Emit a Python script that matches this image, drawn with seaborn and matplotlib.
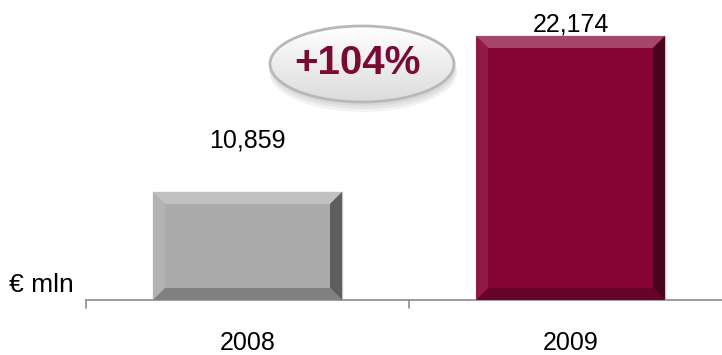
import numpy as np
import pandas as pd
import matplotlib
matplotlib.use("Agg")
import matplotlib.pyplot as plt
from matplotlib.patches import Ellipse, Polygon
import seaborn as sns

years = ["2008", "2009"]
values = [10859, 22174]
value_labels = ["10,859", "22,174"]
bar_colors = ["#ABABAB", "#870535"]
growth_label = "+104%"
unit_label = "€ mln"

sns.set_theme(style="white")
plt.rcParams["font.family"] = ["Liberation Sans", "DejaVu Sans"]

df = pd.DataFrame({"year": years, "value": values})

W, H = 722, 355
fig = plt.figure(figsize=(W / 100, H / 100), dpi=100)
ax = fig.add_axes([86 / W, 55 / H, 646 / W, 300 / H])
sns.barplot(data=df, x="year", y="value", hue="year", palette=bar_colors,
            width=0.585, legend=False, ax=ax, saturation=1)
ax.set_xlim(-0.5, 1.5)
ax.set_ylim(3025, 24782)

for s in ["top", "right", "left"]:
    ax.spines[s].set_visible(False)
ax.spines["bottom"].set_color("#8C8C8C")
ax.spines["bottom"].set_linewidth(1.2)
ax.set_yticks([])
ax.set_xlabel("")
ax.set_ylabel("")
ax.tick_params(axis="x", length=0, pad=22, labelsize=18, labelcolor="black")
# category separators below the baseline
for xb in [-0.5, 0.5]:
    ax.plot([xb, xb], [0, -0.027], transform=ax.get_xaxis_transform(), color="#8C8C8C",
            lw=1.2, clip_on=False)


def shade(c, f):
    c = np.array(matplotlib.colors.to_rgb(c))
    if f >= 0:
        return tuple(c + (1 - c) * f)
    return tuple(c * (1 + f))


# bevelled bar faces
bev = 12  # pixels
to_data = ax.transData.inverted()
label_gap_pt = [32, 3]
ybase = ax.get_ylim()[0]
for patch, col, lab, gap in zip(ax.patches, bar_colors, value_labels, label_gap_pt):
    patch.set_edgecolor("#C8C8C8")
    patch.set_linewidth(1.0)
    x0, y0 = patch.get_x(), max(patch.get_y(), ybase)
    x1, y1 = x0 + patch.get_width(), patch.get_y() + patch.get_height()
    (px0, py0) = ax.transData.transform((x0, y0))
    (px1, py1) = ax.transData.transform((x1, y1))
    ix0, iy0 = to_data.transform((px0 + bev, py0 + bev))
    ix1, iy1 = to_data.transform((px1 - bev, py1 - bev))
    faces = [
        ([(x0, y1), (x1, y1), (ix1, iy1), (ix0, iy1)], shade(col, 0.26)),
        ([(x0, y0), (x0, y1), (ix0, iy1), (ix0, iy0)], shade(col, 0.08)),
        ([(x1, y0), (x1, y1), (ix1, iy1), (ix1, iy0)], shade(col, -0.45)),
        ([(x0, y0), (x1, y0), (ix1, iy0), (ix0, iy0)], shade(col, -0.25)),
    ]
    for pts, fc in faces:
        ax.add_patch(Polygon(pts, closed=True, facecolor=fc, edgecolor="none", zorder=3))
    ax.annotate(lab, ((x0 + x1) / 2, y1), xytext=(0, gap), textcoords="offset points",
                ha="center", va="baseline", fontsize=18, color="black")

fig.text(9 / W, 1 - 285 / H, unit_label, ha="left", va="center", fontsize=19,
         color="black")

# growth bubble on a pixel-space overlay
ov = fig.add_axes([0, 0, 1, 1], zorder=5)
ov.set_xlim(0, W)
ov.set_ylim(0, H)
ov.axis("off")
ov.patch.set_alpha(0)
cx, cy, ew, eh = 362, H - 64, 184, 76
for k, a in enumerate([0.05, 0.05, 0.05]):
    ov.add_patch(Ellipse((cx + 1, cy - 4 - 2 * k), ew + 2 * k, eh + 2 * k,
                         facecolor="#000000", alpha=a, edgecolor="none", zorder=1))
grad = np.linspace(1.0, 0.86, 256).reshape(-1, 1)
im = ov.imshow(np.dstack([grad, grad, grad]), extent=(cx - ew / 2, cx + ew / 2,
               cy - eh / 2, cy + eh / 2), origin="upper", aspect="auto", zorder=2)
clip = Ellipse((cx, cy), ew, eh, transform=ov.transData)
im.set_clip_path(clip)
ov.add_patch(Ellipse((cx, cy), ew, eh, facecolor="none", edgecolor="#B8B8B8",
                     lw=2.0, zorder=3))
ov.set_xlim(0, W)
ov.set_ylim(0, H)
ov.text(cx - 4, cy + 1, growth_label, ha="center", va="center", fontsize=29,
        fontweight="bold", color="#7A0A33", zorder=4)

fig.savefig("out.png", dpi=100)
